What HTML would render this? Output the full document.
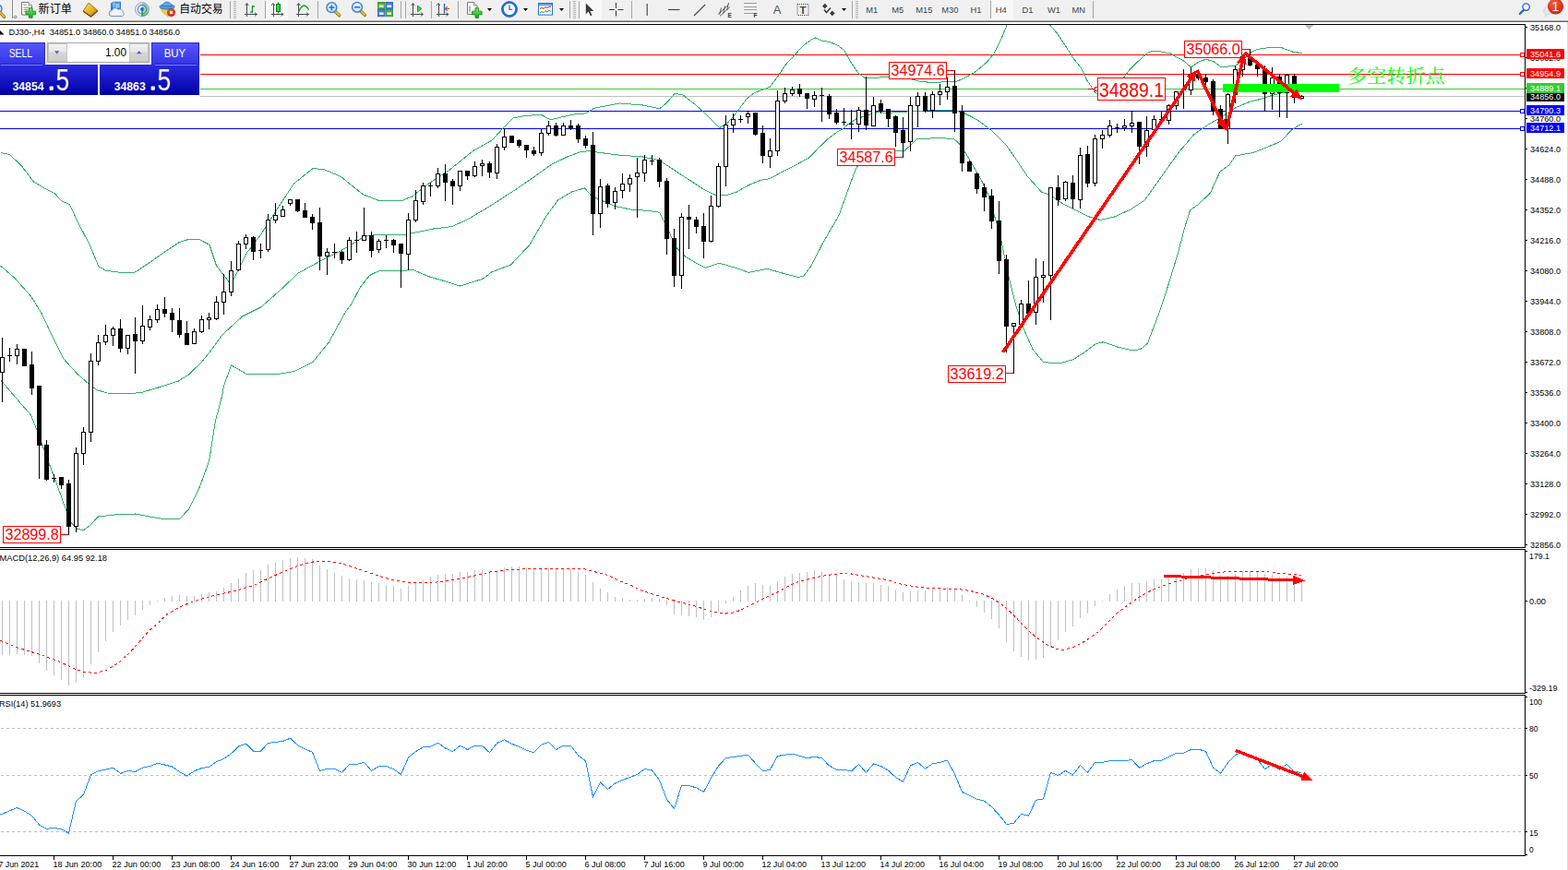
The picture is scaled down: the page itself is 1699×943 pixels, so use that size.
<!DOCTYPE html>
<html><head><meta charset="utf-8"><title>DJ30 H4</title>
<style>
html,body{margin:0;padding:0;background:#fff;overflow:hidden}
body{width:1699px;height:943px}
svg{display:block;position:absolute;left:0;top:0}
text{font-family:"Liberation Sans",sans-serif;white-space:pre}
</style></head><body>
<svg width="1699" height="943" viewBox="0 0 1699 943">
<rect x="0" y="0" width="1699" height="943" fill="#fff"/>
<rect x="0" y="0" width="1699" height="22" fill="#f0f0f0"/>
<rect x="0" y="21" width="1699" height="1" fill="#f7f7f7" shape-rendering="crispEdges"/>
<rect x="0" y="22" width="1699" height="1" fill="#a8a8a8" shape-rendering="crispEdges"/>
<rect x="0" y="23" width="1699" height="1" fill="#696969" shape-rendering="crispEdges"/>
<defs>
<linearGradient id="gold" x1="0" y1="0" x2="1" y2="1"><stop offset="0" stop-color="#fbe27a"/><stop offset="0.5" stop-color="#e9b32a"/><stop offset="1" stop-color="#b97a12"/></linearGradient>
<linearGradient id="grn" x1="0" y1="0" x2="0" y2="1"><stop offset="0" stop-color="#7be87b"/><stop offset="1" stop-color="#12a812"/></linearGradient>
<linearGradient id="blu" x1="0" y1="0" x2="0" y2="1"><stop offset="0" stop-color="#6db6f5"/><stop offset="1" stop-color="#1c6fd6"/></linearGradient>
<radialGradient id="glass" cx="0.4" cy="0.35" r="0.7"><stop offset="0" stop-color="#ffffff"/><stop offset="1" stop-color="#bcd9f5"/></radialGradient>
<radialGradient id="redb" cx="0.4" cy="0.3" r="0.8"><stop offset="0" stop-color="#f0603a"/><stop offset="1" stop-color="#d01a0a"/></radialGradient>
</defs>
<circle cx="-3" cy="9.5" r="5" fill="url(#glass)" stroke="#3b86d8" stroke-width="1.4"/>
<line x1="0.3" y1="13.6" x2="4.6" y2="18.4" stroke="#8e6a14" stroke-width="3.2" stroke-linecap="round"/>
<line x1="0.3" y1="13.6" x2="4.5" y2="18.2" stroke="#e8c038" stroke-width="1.8" stroke-linecap="round"/>
<rect x="13" y="0" width="1" height="20" fill="#8c8c8c" shape-rendering="crispEdges"/>
<path d="M16.5 17l1.5 1.5l-1.5 1.5l-1.5-1.5z" fill="#fff" stroke="#222" stroke-width="0.7"/>
<path d="M23.5 2.5h7.5l3.5 3.5v10.0h-11z" fill="#fbfbfb" stroke="#7a7a7a" stroke-width="1"/>
<path d="M31.0 2.5v3.5h3.5" fill="#e4e4e4" stroke="#7a7a7a" stroke-width="0.8"/>
<path d="M25.5 5.2h3M25.5 8.2h6M25.5 10.4h5M25.5 12.6h4" stroke="#8a8a8a" stroke-width="1"/>
<path d="M31.499999999999996 8.7h3.6v3.5h3.5v3.6h-3.5v3.5h-3.6v-3.5h-3.5v-3.6h3.5z" fill="url(#grn)" stroke="#168a16" stroke-width="0.9"/>
<text x="41.6" y="13.9" font-size="12.1" fill="#000" textLength="36.3" lengthAdjust="spacingAndGlyphs" style="font-family:'Liberation Sans','Noto Sans CJK SC',sans-serif">新订单</text>
<path d="M96 3.2L106 11.5L98.5 18L90 12z" fill="url(#gold)" stroke="#9a6a12" stroke-width="0.9"/>
<path d="M90 12l8.5 6l7.5-6.5" fill="none" stroke="#7a4e08" stroke-width="1.4"/>
<path d="M120.5 3.5l3-1.3h7v8.5h-10z" fill="url(#blu)" stroke="#1a62c4" stroke-width="0.8"/>
<path d="M123.5 2.5v8" stroke="#bfe0ff" stroke-width="0.8"/>
<path d="M125 5.5h4.5M125 7.5h4.5" stroke="#e6f3ff" stroke-width="0.9"/>
<path d="M121 17.5a3 3 0 0 1 0.3-6a3.6 3.6 0 0 1 6.6-1.2a3.4 3.4 0 0 1 5.2 3.2a2.2 2.2 0 0 1-0.6 4z" fill="#eef4fb" stroke="#6d8fc6" stroke-width="1"/>
<path d="M154 2.6a7.6 7.6 0 0 1 0 15.2z" fill="#8ccf8c" opacity="0.85"/>
<circle cx="154" cy="10.2" r="7.4" fill="none" stroke="#7fa3df" stroke-width="1"/>
<circle cx="154" cy="10.2" r="4.8" fill="none" stroke="#4f82d6" stroke-width="1.1"/>
<path d="M154 10v7.6" stroke="#1fa83a" stroke-width="1.6"/>
<path d="M154 17.6q5-0.6 7-5" stroke="#3aa84a" stroke-width="1" fill="none"/>
<circle cx="154" cy="10" r="1.9" fill="#2e62c8"/>
<path d="M174 8.5h14.5l-1.5 4l-5 5.3l-6-4.8z" fill="#f6d548" stroke="#c9a21c" stroke-width="0.8"/>
<ellipse cx="181" cy="7.3" rx="8.2" ry="2.9" fill="#4c97d8" stroke="#2c6fb8" stroke-width="0.7"/>
<path d="M176.3 6.5a4.7 4.4 0 0 1 9.4 0z" fill="#5ea9e6" stroke="#2c6fb8" stroke-width="0.7"/>
<circle cx="185.6" cy="13.6" r="4.2" fill="url(#redb)" stroke="#b01408" stroke-width="0.6"/>
<rect x="184.1" y="12.1" width="3" height="3" fill="#fff"/>
<text x="194.3" y="13.9" font-size="12.1" fill="#000" textLength="47.3" lengthAdjust="spacingAndGlyphs" style="font-family:'Liberation Sans','Noto Sans CJK SC',sans-serif">自动交易</text>
<rect x="249" y="1" width="1" height="19" fill="#a5a5a5" shape-rendering="crispEdges"/>
<rect x="253" y="1" width="3" height="1" fill="#b4b4b4" shape-rendering="crispEdges"/>
<rect x="253" y="3" width="3" height="1" fill="#b4b4b4" shape-rendering="crispEdges"/>
<rect x="253" y="5" width="3" height="1" fill="#b4b4b4" shape-rendering="crispEdges"/>
<rect x="253" y="7" width="3" height="1" fill="#b4b4b4" shape-rendering="crispEdges"/>
<rect x="253" y="9" width="3" height="1" fill="#b4b4b4" shape-rendering="crispEdges"/>
<rect x="253" y="11" width="3" height="1" fill="#b4b4b4" shape-rendering="crispEdges"/>
<rect x="253" y="13" width="3" height="1" fill="#b4b4b4" shape-rendering="crispEdges"/>
<rect x="253" y="15" width="3" height="1" fill="#b4b4b4" shape-rendering="crispEdges"/>
<rect x="253" y="17" width="3" height="1" fill="#b4b4b4" shape-rendering="crispEdges"/>
<rect x="253" y="19" width="3" height="1" fill="#b4b4b4" shape-rendering="crispEdges"/>
<path d="M267.5 4v14M265 15.5h13" stroke="#4a4a4a" stroke-width="1" fill="none" shape-rendering="crispEdges"/>
<path d="M265.7 6l1.8-2.6l1.8 2.6M276 13.7l2.6 1.8l-2.6 1.8" stroke="#4a4a4a" stroke-width="0.9" fill="none"/>
<path d="M273.5 6v8M273.5 7h2.5M271 13h2.5" stroke="#1d9a2e" stroke-width="1.4" fill="none"/>
<rect x="287" y="1" width="1" height="19" fill="#a5a5a5" shape-rendering="crispEdges"/>
<rect x="288" y="0" width="24" height="21" fill="#f8f8f8"/>
<path d="M296.0 4v14M293.5 15.5h13" stroke="#4a4a4a" stroke-width="1" fill="none" shape-rendering="crispEdges"/>
<path d="M294.2 6l1.8-2.6l1.8 2.6M304.5 13.7l2.6 1.8l-2.6 1.8" stroke="#4a4a4a" stroke-width="0.9" fill="none"/>
<path d="M301.5 2.5v12" stroke="#157a22" stroke-width="1.2"/>
<rect x="299.5" y="4.5" width="4" height="8" fill="#2fd44a" stroke="#157a22" stroke-width="1"/>
<path d="M323.5 4v14M321 15.5h13" stroke="#4a4a4a" stroke-width="1" fill="none" shape-rendering="crispEdges"/>
<path d="M321.7 6l1.8-2.6l1.8 2.6M332 13.7l2.6 1.8l-2.6 1.8" stroke="#4a4a4a" stroke-width="0.9" fill="none"/>
<path d="M323.5 13q3-7 6-7q3 0.5 5 4.5" stroke="#1d9a2e" stroke-width="1.3" fill="none"/>
<rect x="344" y="1" width="1" height="19" fill="#a5a5a5" shape-rendering="crispEdges"/>
<line x1="363.0" y1="12.2" x2="367.7" y2="16.799999999999997" stroke="#8e6a14" stroke-width="3.4" stroke-linecap="round"/>
<line x1="363.2" y1="12.2" x2="367.59999999999997" y2="16.5" stroke="#e8c038" stroke-width="2" stroke-linecap="round"/>
<circle cx="359.4" cy="8.2" r="5.4" fill="url(#glass)" stroke="#3b86d8" stroke-width="1.5"/>
<path d="M356.4 8.2h6M359.4 5.199999999999999v6" stroke="#2f78cf" stroke-width="1.8"/>
<line x1="390.6" y1="11.8" x2="395.3" y2="16.4" stroke="#8e6a14" stroke-width="3.4" stroke-linecap="round"/>
<line x1="390.8" y1="11.8" x2="395.2" y2="16.1" stroke="#e8c038" stroke-width="2" stroke-linecap="round"/>
<circle cx="387" cy="7.8" r="5.4" fill="url(#glass)" stroke="#3b86d8" stroke-width="1.5"/>
<path d="M384 7.8h6" stroke="#2f78cf" stroke-width="1.8"/>
<rect x="409.5" y="2.5" width="7.4" height="7.2" fill="#4cae3c" stroke="#2f8a24" stroke-width="0.8"/>
<rect x="410.8" y="5.4" width="4.8" height="2.6" fill="#f4f8ff" opacity="0.9"/>
<rect x="418.0" y="2.5" width="7.4" height="7.2" fill="#3c7fe0" stroke="#2458c0" stroke-width="0.8"/>
<rect x="419.3" y="5.4" width="4.8" height="2.6" fill="#f4f8ff" opacity="0.9"/>
<rect x="409.5" y="10.5" width="7.4" height="7.2" fill="#3c7fe0" stroke="#2458c0" stroke-width="0.8"/>
<rect x="410.8" y="13.4" width="4.8" height="2.6" fill="#f4f8ff" opacity="0.9"/>
<rect x="418.0" y="10.5" width="7.4" height="7.2" fill="#4cae3c" stroke="#2f8a24" stroke-width="0.8"/>
<rect x="419.3" y="13.4" width="4.8" height="2.6" fill="#f4f8ff" opacity="0.9"/>
<rect x="434" y="1" width="1" height="19" fill="#a5a5a5" shape-rendering="crispEdges"/>
<rect x="439" y="1" width="1" height="19" fill="#a5a5a5" shape-rendering="crispEdges"/>
<path d="M447.5 4v14M445 15.5h13" stroke="#4a4a4a" stroke-width="1" fill="none" shape-rendering="crispEdges"/>
<path d="M445.7 6l1.8-2.6l1.8 2.6M456 13.7l2.6 1.8l-2.6 1.8" stroke="#4a4a4a" stroke-width="0.9" fill="none"/>
<path d="M452.5 6.2l4.4 3.3l-4.4 3.3z" fill="#3fd24f" stroke="#1a8a2a" stroke-width="0.9"/>
<rect x="467" y="1" width="1" height="19" fill="#a5a5a5" shape-rendering="crispEdges"/>
<path d="M475.0 4v14M472.5 15.5h13" stroke="#4a4a4a" stroke-width="1" fill="none" shape-rendering="crispEdges"/>
<path d="M473.2 6l1.8-2.6l1.8 2.6M483.5 13.7l2.6 1.8l-2.6 1.8" stroke="#4a4a4a" stroke-width="0.9" fill="none"/>
<path d="M481.5 4v10.5" stroke="#1c62c8" stroke-width="1.3"/>
<path d="M487 9.5h-4.4M484.8 7.3l-2.4 2.2l2.4 2.2" stroke="#d84a10" stroke-width="1.2" fill="none"/>
<rect x="496" y="1" width="1" height="19" fill="#a5a5a5" shape-rendering="crispEdges"/>
<path d="M506.5 2.5h7.0l3.5 3.5v9.5h-10.5z" fill="#fbfbfb" stroke="#7a7a7a" stroke-width="1"/>
<path d="M513.5 2.5v3.5h3.5" fill="#e4e4e4" stroke="#7a7a7a" stroke-width="0.8"/>
<path d="M509 6.5v7M508 8h2M508 11h2" stroke="#8a8a8a" stroke-width="0.9"/>
<path d="M515.0 8.7h3.6v3.5h3.5v3.6h-3.5v3.5h-3.6v-3.5h-3.5v-3.6h3.5z" fill="url(#grn)" stroke="#168a16" stroke-width="0.9"/>
<path d="M528 9h5l-2.5 3z" fill="#000"/>
<circle cx="552" cy="10" r="7.4" fill="#f7fbff" stroke="#1f6fd8" stroke-width="2.4"/>
<circle cx="552" cy="10" r="8.5" fill="none" stroke="#154fa8" stroke-width="0.6"/>
<path d="M552 5.4v4.8h3.2" stroke="#444" stroke-width="1.1" fill="none"/>
<path d="M567 9h5l-2.5 3z" fill="#000"/>
<rect x="583.5" y="3.5" width="15" height="12.6" fill="#fdfdfd" stroke="#2b6fd0" stroke-width="1"/>
<rect x="584" y="4" width="14" height="2.2" fill="#5f9ff0"/>
<path d="M585 9.5l2-1l2 0.8l2-1.6l2 0.8l2-1.4l2 0.4" stroke="#b0301c" stroke-width="1" fill="none"/>
<path d="M585 14l2-1.4l2 1l2-2l2 1.6l2-2l2 1.4" stroke="#1c9a2c" stroke-width="1" fill="none"/>
<path d="M606 9h5l-2.5 3z" fill="#000"/>
<rect x="617" y="1" width="1" height="19" fill="#a5a5a5" shape-rendering="crispEdges"/>
<rect x="621" y="1" width="3" height="1" fill="#b4b4b4" shape-rendering="crispEdges"/>
<rect x="621" y="3" width="3" height="1" fill="#b4b4b4" shape-rendering="crispEdges"/>
<rect x="621" y="5" width="3" height="1" fill="#b4b4b4" shape-rendering="crispEdges"/>
<rect x="621" y="7" width="3" height="1" fill="#b4b4b4" shape-rendering="crispEdges"/>
<rect x="621" y="9" width="3" height="1" fill="#b4b4b4" shape-rendering="crispEdges"/>
<rect x="621" y="11" width="3" height="1" fill="#b4b4b4" shape-rendering="crispEdges"/>
<rect x="621" y="13" width="3" height="1" fill="#b4b4b4" shape-rendering="crispEdges"/>
<rect x="621" y="15" width="3" height="1" fill="#b4b4b4" shape-rendering="crispEdges"/>
<rect x="621" y="17" width="3" height="1" fill="#b4b4b4" shape-rendering="crispEdges"/>
<rect x="621" y="19" width="3" height="1" fill="#b4b4b4" shape-rendering="crispEdges"/>
<rect x="627" y="1" width="1" height="19" fill="#a5a5a5" shape-rendering="crispEdges"/>
<rect x="628" y="0" width="24" height="21" fill="#f8f8f8"/>
<path d="M634.8 3.6v11.6l2.9-2.6l2.1 4.6l1.7-0.8l-2.1-4.4h4z" fill="#3c3c3c"/>
<path d="M667.5 3v6M667.5 11.5v6M660 10.5h6M669.5 10.5h6" stroke="#3c3c3c" stroke-width="1.1"/>
<rect x="684" y="1" width="1" height="19" fill="#a5a5a5" shape-rendering="crispEdges"/>
<path d="M701.2 4v13" stroke="#4a4a4a" stroke-width="1.2"/>
<path d="M724 10.5h12.5" stroke="#4a4a4a" stroke-width="1.2"/>
<path d="M752 17l12.2-12" stroke="#4a4a4a" stroke-width="1.2"/>
<path d="M778 15.5l11-10M780 17.5l11-10M781.5 8.5l-1.8 7M785.5 6.5l-1.8 8M789.5 3l-1.8 8" stroke="#4a4a4a" stroke-width="0.9" fill="none"/>
<text x="788.5" y="19" font-size="6.5" fill="#333" font-weight="bold">E</text>
<path d="M806.5 3.5h13.5" stroke="#4a4a4a" stroke-width="1" stroke-dasharray="1 1"/>
<path d="M806.5 7.5h13.5" stroke="#4a4a4a" stroke-width="1" stroke-dasharray="1 1"/>
<path d="M806.5 10.5h13.5" stroke="#4a4a4a" stroke-width="1" stroke-dasharray="1 1"/>
<path d="M806.5 14.5h13.5" stroke="#4a4a4a" stroke-width="1" stroke-dasharray="1 1"/>
<text x="816.5" y="19" font-size="6.5" fill="#333" font-weight="bold">F</text>
<text x="842" y="15.2" font-size="13" fill="#555" text-anchor="middle">A</text>
<rect x="864" y="4.5" width="12" height="12" fill="none" stroke="#444" stroke-width="1" stroke-dasharray="1 1"/>
<text x="870" y="15" font-size="11.5" fill="#444" text-anchor="middle" font-weight="bold">T</text>
<path d="M891 6.6l2.8-2.8l2.8 2.8l-2.8 2.8z" fill="#3c3c3c"/>
<path d="M899 14.4l2.8-2.8l2.8 2.8l-2.8 2.8z" fill="#3c3c3c"/>
<path d="M893 10.5l2.5 3l4.5-5" stroke="#3c3c3c" stroke-width="1.5" fill="none"/>
<path d="M912 9h5l-2.5 3z" fill="#000"/>
<rect x="923" y="1" width="1" height="19" fill="#a5a5a5" shape-rendering="crispEdges"/>
<rect x="927" y="1" width="3" height="1" fill="#b4b4b4" shape-rendering="crispEdges"/>
<rect x="927" y="3" width="3" height="1" fill="#b4b4b4" shape-rendering="crispEdges"/>
<rect x="927" y="5" width="3" height="1" fill="#b4b4b4" shape-rendering="crispEdges"/>
<rect x="927" y="7" width="3" height="1" fill="#b4b4b4" shape-rendering="crispEdges"/>
<rect x="927" y="9" width="3" height="1" fill="#b4b4b4" shape-rendering="crispEdges"/>
<rect x="927" y="11" width="3" height="1" fill="#b4b4b4" shape-rendering="crispEdges"/>
<rect x="927" y="13" width="3" height="1" fill="#b4b4b4" shape-rendering="crispEdges"/>
<rect x="927" y="15" width="3" height="1" fill="#b4b4b4" shape-rendering="crispEdges"/>
<rect x="927" y="17" width="3" height="1" fill="#b4b4b4" shape-rendering="crispEdges"/>
<rect x="927" y="19" width="3" height="1" fill="#b4b4b4" shape-rendering="crispEdges"/>
<text x="944.8" y="14.1" font-size="9.4" fill="#444" text-anchor="middle">M1</text>
<text x="972.8" y="14.1" font-size="9.4" fill="#444" text-anchor="middle">M5</text>
<text x="1001.4" y="14.1" font-size="9.4" fill="#444" text-anchor="middle">M15</text>
<text x="1029.3" y="14.1" font-size="9.4" fill="#444" text-anchor="middle">M30</text>
<text x="1057.5" y="14.1" font-size="9.4" fill="#444" text-anchor="middle">H1</text>
<rect x="1073" y="1" width="1" height="19" fill="#a5a5a5" shape-rendering="crispEdges"/>
<rect x="1074" y="0" width="24" height="21" fill="#f8f8f8"/>
<text x="1084.7" y="14.1" font-size="9.4" fill="#444" text-anchor="middle">H4</text>
<text x="1113.4" y="14.1" font-size="9.4" fill="#444" text-anchor="middle">D1</text>
<text x="1142" y="14.1" font-size="9.4" fill="#444" text-anchor="middle">W1</text>
<text x="1168.8" y="14.1" font-size="9.4" fill="#444" text-anchor="middle">MN</text>
<rect x="1184" y="1" width="1" height="19" fill="#a5a5a5" shape-rendering="crispEdges"/>
<line x1="1646.8" y1="15" x2="1650.8" y2="11" stroke="#2a5fd0" stroke-width="2.2" stroke-linecap="round"/>
<circle cx="1653.6" cy="7.6" r="3.7" fill="#f4f8ff" stroke="#2a5fd0" stroke-width="1.3"/>
<path d="M1673 11a5.5 4 0 1 1 6 4l-3 0.5l-1 2.5l-0.6-2.8a5.5 4 0 0 1-1.4-4.2z" fill="#e4e8ee" stroke="#c0c6d0" stroke-width="0.7"/>
<circle cx="1685.5" cy="7" r="8.6" fill="url(#redb)"/>
<text x="1685.3" y="12.2" font-size="14" fill="#fff" text-anchor="middle">1</text>
<g shape-rendering="crispEdges">
<rect x="0" y="26" width="1653" height="1" fill="#000"/>
<rect x="1652" y="26" width="1" height="902" fill="#000"/>
<rect x="217" y="59" width="1435" height="1" fill="#ff0000"/>
<rect x="217" y="80" width="1435" height="1" fill="#ff0000"/>
<rect x="217" y="96" width="1435" height="1" fill="#32cd32"/>
<rect x="217" y="104" width="1435" height="1" fill="#c0c0c0"/>
<rect x="0" y="120" width="1652" height="1" fill="#0000ff"/>
<rect x="0" y="139" width="1652" height="1" fill="#0000ff"/>
</g>
<g shape-rendering="crispEdges">
<clipPath id="cpm"><rect x="0" y="27" width="1652" height="566"/></clipPath>
<g clip-path="url(#cpm)">
<polyline points="0.5,165.6 10.5,167.4 23.5,180 36.1,196.7 46.3,203 59,209.4 66.5,217.8 75.5,221.6 84.5,241 97.2,265.4 106.9,288.8 115,293.4 131.5,295.4 146.5,295 160.5,285.8 178.5,273 193.9,262.8 204.1,259.5 216.5,259.8 227,265.4 234.5,288 248.5,306 253.5,302 267.5,274 283,253.8 298.3,229.6 318.5,199 339,182.5 351.5,183.8 369.5,191.5 380.5,200.5 393.2,210.7 411,217.6 435.2,217.6 446.5,213 464.5,199 487.4,184 512.5,163.6 533.2,152 543.5,140.7 556.1,128 568.5,125.4 586.5,124.4 596.5,129.8 609.5,126.7 624.5,123.4 635,122.9 643.5,117.3 671.5,112 696.5,114 714.5,117.8 722.3,111.5 731.2,101.3 740.1,103 752.5,112.7 765.5,124.2 779.5,138.7 788.5,133 798.5,121.6 808.5,107.6 817.5,100.5 830.5,95.7 834.5,94 842.9,82.7 851.1,70.4 861.5,59 871.7,48.3 879.9,42.5 883.5,41 891.3,44.6 898.5,45.2 908.8,49.8 915,54.9 921.1,66.2 929.5,78.6 937.5,84.8 945.9,84.2 964.5,83.7 987.1,85.8 995.3,87.9 1011.8,89.9 1026.2,88.3 1036.5,88.3 1044.8,84.8 1057.1,77.6 1069.5,67.3 1077.7,57 1083.9,44.6 1091.1,27 1096.5,12 1105.5,2 1114.5,0 1124.5,4 1131.5,14 1137.5,27 1145.7,36.4 1153.9,48.7 1162.2,62.1 1170.5,72.4 1173.7,78.2 1177.7,86.9 1182.5,94 1186.5,100.4 1189.5,101.6 1197.5,104.5 1208.5,96 1217.8,83.7 1224.5,75 1230.9,68.6 1240.5,59.9 1244.5,56.7 1250,55.1 1254.8,55.1 1260.3,56.5 1268.3,57.9 1273.9,61.5 1281.8,65.4 1290.5,72.8 1295.3,69.4 1300.5,66.2 1306.9,64.3 1314.9,66.5 1322.8,72.5 1338.5,71.6 1356,56.6 1362.5,53.3 1377.2,51.3 1387.5,51.3 1401.1,56.2 1410.5,57.6" fill="none" stroke="#33b06e" stroke-width="1"/>
<polyline points="0.5,288 15.5,301 33.5,321 45,339.5 55.5,362 69.5,389.7 83.3,404.8 97,417 105.3,422.8 116.4,426 138.5,427 155,425 171.5,420 193.5,413 204.5,406 218.5,392.4 229.5,378.6 240.5,363.4 262.5,343 283,332.7 303.3,314.9 323.5,295.8 347.1,283 369.5,271.6 380.5,265.4 395.5,255.7 416.1,254 435.2,255 446.5,252.7 469.5,248 489.9,245.5 507.5,237.4 533.2,222 558.5,205.6 579,191.6 596.5,178.9 614.5,170 629.5,164.4 640.5,163.6 645.9,164.9 671.5,168.2 696.5,170 714.5,173.8 729.9,184 747.5,195.4 763,205.6 775.5,211.5 788.5,211.2 798.5,208 811.3,200.5 824,195.4 834.2,193.6 849.5,185.2 864.5,177.6 876,171.4 886.5,160.8 895.9,151.5 906.5,143.5 913.1,139.6 919.5,134.3 927.5,129 939.5,125 950.5,121.7 962.5,122.3 983,121 1003.3,119.8 1031.3,119 1044.1,122.3 1059.3,130 1074.5,141.4 1089.9,156.7 1100.5,172 1113.2,191 1128.5,208 1138.5,211.8 1151.5,220.7 1164.1,227 1179.5,234.7 1192.1,238.5 1207.5,235 1225.2,227 1240.5,216.8 1253.2,199 1265.9,181 1278.5,163.4 1293.9,145.6 1309.2,135 1321.9,127.8 1339.5,116.3 1355,110 1362.5,108.3 1379.8,103 1393.1,99.7 1410.5,98" fill="none" stroke="#33b06e" stroke-width="1"/>
<polyline points="0.5,411.7 17,431 33.5,450 41.5,469.7 50.2,494.5 59.5,519 69.5,547 76.5,566 83.3,573 90.2,575 97,570 106.5,560 124.5,558 146.5,557 166,560.7 179.5,563 195,562 204.5,552 215.5,530 226.5,500 233.5,456 240.5,429.7 242.3,419 250.5,395.8 267.5,405.7 298.3,406 318.5,402.6 339,392.5 356.5,370.8 374.5,337.8 380.5,330 390.5,311 400.5,298.5 411,293.4 435.2,293.4 447.9,292.6 464.5,299.7 482.3,304.8 498.5,310 523,302.3 533.2,294.6 553.5,287 573.9,265.4 591.5,234.9 604.5,217 619.5,208 633.5,203.8 640.5,212 651,217 666.3,223.4 684.1,227.2 704.5,228.5 714.5,230.3 722.3,245 732.5,268 742.5,278 755.4,285.8 764.3,290.3 779.5,285.2 798.5,290.8 811.3,295.4 831.5,291.3 844.5,295.2 864.5,300.5 871,299 878.5,289 891.5,263.6 909.2,233 921.9,197.4 928.3,180.9 940.5,172 955.5,167 970.3,163.8 980.5,163 993.2,151 1013.5,149.6 1033.5,150.3 1041.5,158 1051.5,174.5 1064.5,197.4 1070.5,210.5 1083.5,253.8 1093.5,302 1101.2,332.7 1108.8,355.6 1119,378.5 1130.5,392.5 1147,394 1162.3,390 1175,382 1187.5,372.6 1195.5,370.8 1210.5,376 1227.2,380 1236.1,378.5 1243.5,372 1256.5,337.8 1266.5,307 1276.5,274 1283.5,247.4 1289.5,228 1299.5,220.7 1311.5,209 1321.9,186.3 1332.1,178.7 1338.5,169 1355,166 1360,164.7 1373.2,159.4 1387.8,153.4 1399.5,140.8 1410.5,134" fill="none" stroke="#33b06e" stroke-width="1"/>
</g></g>
<rect x="3.5" y="570.5" width="62" height="18" fill="#fff" stroke="#ff0000" stroke-width="1" shape-rendering="crispEdges"/>
<text x="5.6" y="585.0" font-size="16.5" fill="#ff0000" textLength="58" lengthAdjust="spacingAndGlyphs">32899.8</text>
<rect x="66" y="579" width="8" height="1" fill="#ff0000" shape-rendering="crispEdges"/>
<rect x="907.5" y="161.5" width="62" height="18" fill="#fff" stroke="#ff0000" stroke-width="1" shape-rendering="crispEdges"/>
<text x="909.6" y="176.0" font-size="16.5" fill="#ff0000" textLength="58" lengthAdjust="spacingAndGlyphs">34587.6</text>
<rect x="970" y="170" width="8" height="1" fill="#ff0000" shape-rendering="crispEdges"/>
<rect x="963.5" y="67.5" width="62" height="18" fill="#fff" stroke="#ff0000" stroke-width="1" shape-rendering="crispEdges"/>
<text x="965.6" y="82.0" font-size="16.5" fill="#ff0000" textLength="58" lengthAdjust="spacingAndGlyphs">34974.6</text>
<rect x="1026" y="76" width="8" height="1" fill="#ff0000" shape-rendering="crispEdges"/>
<rect x="1027.5" y="396.5" width="62" height="18" fill="#fff" stroke="#ff0000" stroke-width="1" shape-rendering="crispEdges"/>
<text x="1029.6" y="411.0" font-size="16.5" fill="#ff0000" textLength="58" lengthAdjust="spacingAndGlyphs">33619.2</text>
<rect x="1090" y="404" width="8" height="1" fill="#ff0000" shape-rendering="crispEdges"/>
<rect x="1283.5" y="44.5" width="62" height="18" fill="#fff" stroke="#ff0000" stroke-width="1" shape-rendering="crispEdges"/>
<text x="1285.6" y="59.0" font-size="16.5" fill="#ff0000" textLength="58" lengthAdjust="spacingAndGlyphs">35066.0</text>
<rect x="1346" y="53" width="8" height="1" fill="#ff0000" shape-rendering="crispEdges"/>
<g shape-rendering="crispEdges">
<rect x="1179" y="96" width="8" height="1" fill="#ff0000"/>
<rect x="1186.5" y="94.5" width="3" height="4" fill="#fff" stroke="#ff0000" stroke-width="1"/>
<rect x="1189.5" y="84.5" width="73" height="24" fill="#fff" stroke="#ff0000" stroke-width="1"/>
</g>
<text x="1191" y="104.6" font-size="21.5" fill="#ff0000" textLength="70" lengthAdjust="spacingAndGlyphs">34889.1</text>
<g shape-rendering="crispEdges">
<path d="M2 366h1v70h-1zM10 377h1v15h-1zM18 373h1v22h-1zM26 378h1v19h-1zM34 381h1v47h-1zM42 418h1v101h-1zM50 477h1v44h-1zM58 514h1v9h-1zM66 517h1v13h-1zM74 520h1v60h-1zM82 485h1v92h-1zM90 463h1v41h-1zM98 383h1v96h-1zM106 363h1v33h-1zM114 352h1v22h-1zM122 354h1v21h-1zM130 346h1v36h-1zM138 363h1v21h-1zM146 344h1v61h-1zM154 331h1v42h-1zM162 342h1v16h-1zM170 330h1v20h-1zM178 322h1v22h-1zM186 334h1v26h-1zM194 334h1v32h-1zM202 348h1v26h-1zM210 356h1v17h-1zM218 342h1v19h-1zM226 339h1v18h-1zM234 321h1v26h-1zM242 297h1v44h-1zM250 283h1v38h-1zM258 261h1v33h-1zM266 254h1v16h-1zM274 256h1v26h-1zM282 264h1v16h-1zM290 232h1v41h-1zM298 220h1v22h-1zM306 223h1v12h-1zM314 216h1v7h-1zM322 216h1v14h-1zM330 220h1v16h-1zM338 232h1v17h-1zM346 225h1v68h-1zM354 269h1v29h-1zM362 264h1v16h-1zM370 272h1v14h-1zM378 257h1v26h-1zM386 251h1v23h-1zM394 225h1v36h-1zM402 251h1v28h-1zM410 259h1v15h-1zM418 255h1v14h-1zM426 259h1v15h-1zM434 264h1v48h-1zM442 231h1v62h-1zM450 206h1v35h-1zM458 198h1v24h-1zM466 198h1v15h-1zM474 182h1v22h-1zM482 178h1v40h-1zM490 194h1v28h-1zM498 185h1v22h-1zM506 185h1v10h-1zM514 175h1v17h-1zM522 173h1v18h-1zM530 175h1v18h-1zM538 156h1v38h-1zM546 139h1v24h-1zM554 147h1v8h-1zM562 151h1v9h-1zM570 157h1v14h-1zM578 159h1v10h-1zM586 140h1v29h-1zM594 131h1v16h-1zM602 133h1v15h-1zM610 133h1v14h-1zM618 130h1v11h-1zM626 134h1v21h-1zM634 147h1v14h-1zM642 143h1v112h-1zM650 194h1v53h-1zM658 199h1v26h-1zM666 203h1v24h-1zM674 188h1v27h-1zM682 189h1v19h-1zM690 171h1v65h-1zM698 168h1v29h-1zM706 168h1v11h-1zM714 171h1v32h-1zM722 193h1v83h-1zM730 248h1v63h-1zM738 231h1v82h-1zM746 222h1v48h-1zM754 235h1v18h-1zM762 231h1v49h-1zM770 212h1v51h-1zM778 177h1v48h-1zM786 125h1v77h-1zM794 123h1v21h-1zM802 125h1v8h-1zM810 120h1v14h-1zM818 122h1v25h-1zM826 136h1v41h-1zM834 150h1v32h-1zM842 98h1v71h-1zM850 95h1v17h-1zM858 94h1v10h-1zM866 91h1v14h-1zM874 101h1v17h-1zM882 99h1v17h-1zM890 95h1v37h-1zM898 102h1v27h-1zM906 118h1v17h-1zM914 117h1v19h-1zM922 119h1v32h-1zM930 116h1v27h-1zM938 83h1v58h-1zM946 105h1v32h-1zM954 108h1v15h-1zM962 118h1v20h-1zM970 125h1v34h-1zM978 127h1v44h-1zM986 105h1v59h-1zM994 100h1v38h-1zM1002 100h1v22h-1zM1010 99h1v29h-1zM1018 91h1v23h-1zM1026 84h1v24h-1zM1034 76h1v67h-1zM1042 114h1v72h-1zM1050 174h1v12h-1zM1058 187h1v23h-1zM1066 199h1v30h-1zM1074 205h1v43h-1zM1082 218h1v79h-1zM1090 276h1v106h-1zM1098 350h1v55h-1zM1106 325h1v27h-1zM1114 304h1v36h-1zM1122 280h1v72h-1zM1130 283h1v45h-1zM1138 203h1v144h-1zM1146 190h1v33h-1zM1154 196h1v22h-1zM1162 190h1v36h-1zM1170 160h1v66h-1zM1178 158h1v45h-1zM1186 146h1v56h-1zM1194 141h1v20h-1zM1202 130h1v19h-1zM1210 134h1v10h-1zM1218 129h1v13h-1zM1226 120h1v24h-1zM1234 132h1v46h-1zM1242 126h1v44h-1zM1250 125h1v17h-1zM1258 121h1v12h-1zM1266 113h1v22h-1zM1274 99h1v20h-1zM1282 75h1v43h-1zM1290 73h1v30h-1zM1298 79h1v8h-1zM1306 80h1v12h-1zM1314 86h1v39h-1zM1322 114h1v26h-1zM1330 101h1v55h-1zM1338 71h1v41h-1zM1346 59h1v24h-1zM1354 53h1v19h-1zM1362 68h1v15h-1zM1370 71h1v50h-1zM1378 73h1v46h-1zM1386 80h1v47h-1zM1394 80h1v48h-1zM1402 80h1v32h-1zM1410 103h1v3h-1z" fill="#000"/>
<path d="M0 387h5v17h-5zM8 385h5v1h-5zM16 378h5v8h-5zM24 378h5v19h-5zM32 395h5v26h-5zM40 418h5v65h-5zM48 482h5v38h-5zM56 518h5v1h-5zM64 517h5v9h-5zM72 524h5v47h-5zM80 491h5v80h-5zM88 468h5v24h-5zM96 391h5v78h-5zM104 371h5v21h-5zM112 363h5v8h-5zM120 356h5v8h-5zM128 356h5v22h-5zM136 363h5v15h-5zM144 362h5v8h-5zM152 353h5v17h-5zM160 346h5v9h-5zM168 335h5v12h-5zM176 335h5v5h-5zM184 339h5v8h-5zM192 347h5v16h-5zM200 361h5v13h-5zM208 359h5v14h-5zM216 346h5v14h-5zM224 344h5v3h-5zM232 327h5v19h-5zM240 316h5v12h-5zM248 293h5v24h-5zM256 264h5v29h-5zM264 257h5v8h-5zM272 257h5v16h-5zM280 271h5v1h-5zM288 238h5v33h-5zM296 233h5v6h-5zM304 227h5v8h-5zM312 216h5v5h-5zM320 216h5v13h-5zM328 228h5v8h-5zM336 235h5v7h-5zM344 241h5v37h-5zM352 273h5v5h-5zM360 273h5v1h-5zM368 273h5v9h-5zM376 260h5v22h-5zM384 260h5v1h-5zM392 255h5v6h-5zM400 255h5v17h-5zM408 261h5v10h-5zM416 260h5v1h-5zM424 260h5v6h-5zM432 264h5v11h-5zM440 238h5v38h-5zM448 217h5v22h-5zM456 201h5v18h-5zM464 201h5v1h-5zM472 188h5v14h-5zM480 188h5v10h-5zM488 196h5v6h-5zM496 185h5v17h-5zM504 185h5v6h-5zM512 180h5v11h-5zM520 177h5v3h-5zM528 177h5v10h-5zM536 159h5v29h-5zM544 148h5v12h-5zM552 147h5v8h-5zM560 152h5v6h-5zM568 157h5v6h-5zM576 163h5v4h-5zM584 144h5v22h-5zM592 136h5v9h-5zM600 136h5v11h-5zM608 136h5v11h-5zM616 136h5v3h-5zM624 136h5v15h-5zM632 150h5v8h-5zM640 157h5v75h-5zM648 202h5v30h-5zM656 201h5v20h-5zM664 207h5v13h-5zM672 199h5v8h-5zM680 193h5v7h-5zM688 187h5v5h-5zM696 173h5v15h-5zM704 174h5v1h-5zM712 173h5v24h-5zM720 196h5v63h-5zM728 258h5v41h-5zM736 235h5v64h-5zM744 235h5v3h-5zM752 238h5v8h-5zM760 245h5v17h-5zM768 223h5v39h-5zM776 180h5v44h-5zM784 135h5v46h-5zM792 129h5v7h-5zM800 129h5v1h-5zM808 123h5v4h-5zM816 122h5v24h-5zM824 144h5v25h-5zM832 163h5v7h-5zM840 109h5v55h-5zM848 101h5v9h-5zM856 97h5v5h-5zM864 96h5v6h-5zM872 101h5v6h-5zM880 103h5v5h-5zM888 103h5v1h-5zM896 104h5v20h-5zM904 122h5v11h-5zM912 132h5v1h-5zM920 134h5v1h-5zM928 119h5v16h-5zM936 119h5v17h-5zM944 114h5v23h-5zM952 112h5v8h-5zM960 118h5v11h-5zM968 126h5v18h-5zM976 141h5v14h-5zM984 114h5v40h-5zM992 104h5v11h-5zM1000 104h5v16h-5zM1008 102h5v18h-5zM1016 99h5v4h-5zM1024 94h5v6h-5zM1032 93h5v30h-5zM1040 121h5v56h-5zM1048 175h5v11h-5zM1056 188h5v17h-5zM1064 203h5v11h-5zM1072 212h5v28h-5zM1080 239h5v44h-5zM1088 281h5v73h-5zM1096 350h5v4h-5zM1104 329h5v23h-5zM1112 329h5v11h-5zM1120 300h5v39h-5zM1128 298h5v3h-5zM1136 203h5v96h-5zM1144 203h5v14h-5zM1152 197h5v19h-5zM1160 198h5v18h-5zM1168 168h5v49h-5zM1176 167h5v32h-5zM1184 150h5v49h-5zM1192 146h5v5h-5zM1200 136h5v11h-5zM1208 138h5v1h-5zM1216 136h5v3h-5zM1224 133h5v4h-5zM1232 132h5v27h-5zM1240 141h5v18h-5zM1248 129h5v12h-5zM1256 129h5v1h-5zM1264 114h5v17h-5zM1272 99h5v16h-5zM1280 97h5v1h-5zM1288 80h5v18h-5zM1296 80h5v5h-5zM1304 84h5v5h-5zM1312 88h5v33h-5zM1320 118h5v22h-5zM1328 102h5v38h-5zM1336 75h5v28h-5zM1344 61h5v15h-5zM1352 61h5v10h-5zM1360 70h5v5h-5zM1368 74h5v28h-5zM1376 84h5v18h-5zM1384 83h5v18h-5zM1392 81h5v20h-5zM1400 82h5v24h-5zM1408 104h5v3h-5z" fill="#000"/>
<path d="M1 388h3v15h-3zM17 379h3v6h-3zM81 492h3v78h-3zM89 469h3v22h-3zM97 392h3v76h-3zM105 372h3v19h-3zM113 364h3v6h-3zM121 357h3v6h-3zM137 364h3v13h-3zM153 354h3v15h-3zM161 347h3v7h-3zM169 336h3v10h-3zM209 360h3v12h-3zM217 347h3v12h-3zM225 345h3v1h-3zM233 328h3v17h-3zM241 317h3v10h-3zM249 294h3v22h-3zM257 265h3v27h-3zM265 258h3v6h-3zM289 239h3v31h-3zM297 234h3v4h-3zM305 228h3v6h-3zM313 217h3v3h-3zM353 274h3v3h-3zM377 261h3v20h-3zM393 256h3v4h-3zM409 262h3v8h-3zM441 239h3v36h-3zM449 218h3v20h-3zM457 202h3v16h-3zM473 189h3v12h-3zM497 186h3v15h-3zM513 181h3v9h-3zM521 178h3v1h-3zM537 160h3v27h-3zM545 149h3v10h-3zM585 145h3v20h-3zM593 137h3v7h-3zM609 137h3v9h-3zM649 203h3v28h-3zM665 208h3v11h-3zM673 200h3v6h-3zM681 194h3v5h-3zM689 188h3v3h-3zM697 174h3v13h-3zM737 236h3v62h-3zM769 224h3v37h-3zM777 181h3v42h-3zM785 136h3v44h-3zM793 130h3v5h-3zM809 124h3v2h-3zM833 164h3v5h-3zM841 110h3v53h-3zM849 102h3v7h-3zM857 98h3v3h-3zM881 104h3v3h-3zM929 120h3v14h-3zM945 115h3v21h-3zM985 115h3v38h-3zM993 105h3v9h-3zM1009 103h3v16h-3zM1017 100h3v2h-3zM1025 95h3v4h-3zM1097 351h3v2h-3zM1105 330h3v21h-3zM1121 301h3v37h-3zM1129 299h3v1h-3zM1137 204h3v94h-3zM1153 198h3v17h-3zM1169 169h3v47h-3zM1185 151h3v47h-3zM1193 147h3v3h-3zM1201 137h3v9h-3zM1217 137h3v1h-3zM1225 134h3v2h-3zM1241 142h3v16h-3zM1249 130h3v10h-3zM1265 115h3v15h-3zM1273 100h3v14h-3zM1289 81h3v16h-3zM1329 103h3v36h-3zM1337 76h3v26h-3zM1345 62h3v13h-3zM1377 85h3v16h-3zM1393 82h3v18h-3zM1409 105h3v1h-3z" fill="#fff"/>
</g>
<g shape-rendering="crispEdges">
<rect x="1653" y="29" width="2" height="1" fill="#000"/>
<rect x="1653" y="62" width="2" height="1" fill="#000"/>
<rect x="1653" y="95" width="2" height="1" fill="#000"/>
<rect x="1653" y="128" width="2" height="1" fill="#000"/>
<rect x="1653" y="161" width="2" height="1" fill="#000"/>
<rect x="1653" y="194" width="2" height="1" fill="#000"/>
<rect x="1653" y="227" width="2" height="1" fill="#000"/>
<rect x="1653" y="260" width="2" height="1" fill="#000"/>
<rect x="1653" y="293" width="2" height="1" fill="#000"/>
<rect x="1653" y="326" width="2" height="1" fill="#000"/>
<rect x="1653" y="359" width="2" height="1" fill="#000"/>
<rect x="1653" y="392" width="2" height="1" fill="#000"/>
<rect x="1653" y="425" width="2" height="1" fill="#000"/>
<rect x="1653" y="458" width="2" height="1" fill="#000"/>
<rect x="1653" y="491" width="2" height="1" fill="#000"/>
<rect x="1653" y="524" width="2" height="1" fill="#000"/>
<rect x="1653" y="557" width="2" height="1" fill="#000"/>
<rect x="1653" y="590" width="2" height="1" fill="#000"/>
</g>
<text x="1658" y="32.7" font-size="9.5" fill="#000" textLength="33" lengthAdjust="spacingAndGlyphs">35168.0</text>
<text x="1658" y="65.7" font-size="9.5" fill="#000" textLength="33" lengthAdjust="spacingAndGlyphs">35032.0</text>
<text x="1658" y="98.8" font-size="9.5" fill="#000" textLength="33" lengthAdjust="spacingAndGlyphs">34896.0</text>
<text x="1658" y="131.8" font-size="9.5" fill="#000" textLength="33" lengthAdjust="spacingAndGlyphs">34760.0</text>
<text x="1658" y="164.8" font-size="9.5" fill="#000" textLength="33" lengthAdjust="spacingAndGlyphs">34624.0</text>
<text x="1658" y="197.9" font-size="9.5" fill="#000" textLength="33" lengthAdjust="spacingAndGlyphs">34488.0</text>
<text x="1658" y="230.9" font-size="9.5" fill="#000" textLength="33" lengthAdjust="spacingAndGlyphs">34352.0</text>
<text x="1658" y="264.0" font-size="9.5" fill="#000" textLength="33" lengthAdjust="spacingAndGlyphs">34216.0</text>
<text x="1658" y="297.0" font-size="9.5" fill="#000" textLength="33" lengthAdjust="spacingAndGlyphs">34080.0</text>
<text x="1658" y="330.1" font-size="9.5" fill="#000" textLength="33" lengthAdjust="spacingAndGlyphs">33944.0</text>
<text x="1658" y="363.1" font-size="9.5" fill="#000" textLength="33" lengthAdjust="spacingAndGlyphs">33808.0</text>
<text x="1658" y="396.2" font-size="9.5" fill="#000" textLength="33" lengthAdjust="spacingAndGlyphs">33672.0</text>
<text x="1658" y="429.2" font-size="9.5" fill="#000" textLength="33" lengthAdjust="spacingAndGlyphs">33536.0</text>
<text x="1658" y="462.3" font-size="9.5" fill="#000" textLength="33" lengthAdjust="spacingAndGlyphs">33400.0</text>
<text x="1658" y="495.3" font-size="9.5" fill="#000" textLength="33" lengthAdjust="spacingAndGlyphs">33264.0</text>
<text x="1658" y="528.3" font-size="9.5" fill="#000" textLength="33" lengthAdjust="spacingAndGlyphs">33128.0</text>
<text x="1658" y="561.4" font-size="9.5" fill="#000" textLength="33" lengthAdjust="spacingAndGlyphs">32992.0</text>
<text x="1658" y="594.4" font-size="9.5" fill="#000" textLength="33" lengthAdjust="spacingAndGlyphs">32856.0</text>
<rect x="1654" y="53" width="41" height="11" fill="#ff0000" shape-rendering="crispEdges"/>
<text x="1658" y="61.8" font-size="9.5" fill="#fff" textLength="33" lengthAdjust="spacingAndGlyphs">35041.6</text>
<rect x="1647.5" y="57.5" width="4" height="4" fill="#fff" stroke="#ff0000" stroke-width="1" shape-rendering="crispEdges"/>
<rect x="1654" y="74" width="41" height="11" fill="#ff0000" shape-rendering="crispEdges"/>
<text x="1658" y="82.8" font-size="9.5" fill="#fff" textLength="33" lengthAdjust="spacingAndGlyphs">34954.9</text>
<rect x="1647.5" y="78.5" width="4" height="4" fill="#fff" stroke="#ff0000" stroke-width="1" shape-rendering="crispEdges"/>
<rect x="1654" y="90" width="41" height="11" fill="#32cd32" shape-rendering="crispEdges"/>
<text x="1658" y="98.8" font-size="9.5" fill="#fff" textLength="33" lengthAdjust="spacingAndGlyphs">34889.1</text>
<rect x="1654" y="101" width="41" height="9" fill="#000000" shape-rendering="crispEdges"/>
<text x="1658" y="108.4" font-size="9.5" fill="#fff" textLength="33" lengthAdjust="spacingAndGlyphs">34856.0</text>
<rect x="1654" y="114" width="41" height="11" fill="#0000ff" shape-rendering="crispEdges"/>
<text x="1658" y="122.8" font-size="9.5" fill="#fff" textLength="33" lengthAdjust="spacingAndGlyphs">34790.3</text>
<rect x="1647.5" y="118.5" width="4" height="4" fill="#fff" stroke="#0000ff" stroke-width="1" shape-rendering="crispEdges"/>
<rect x="1654" y="133" width="41" height="11" fill="#0000ff" shape-rendering="crispEdges"/>
<text x="1658" y="141.8" font-size="9.5" fill="#fff" textLength="33" lengthAdjust="spacingAndGlyphs">34712.1</text>
<rect x="1647.5" y="137.5" width="4" height="4" fill="#fff" stroke="#0000ff" stroke-width="1" shape-rendering="crispEdges"/>
<path d="M0 33 L4.5 37.5 L0 37.5z" fill="#000"/>
<text x="9.5" y="38" font-size="9.5" fill="#000" textLength="185.5" lengthAdjust="spacingAndGlyphs">DJ30-,H4  34851.0 34860.0 34851.0 34856.0</text>
<path d="M1414 27h9l-4.5 5z" fill="#c0c0c0" shape-rendering="crispEdges"/>
<g shape-rendering="crispEdges">
<rect x="0" y="593" width="1653" height="1" fill="#000"/>
<rect x="0" y="594" width="1699" height="1" fill="#fff"/>
<rect x="0" y="595" width="1653" height="1" fill="#000"/>
<rect x="0" y="751" width="1653" height="1" fill="#000"/>
<rect x="0" y="752" width="1699" height="1" fill="#fff"/>
<rect x="0" y="753" width="1653" height="1" fill="#000"/>
<rect x="0" y="927" width="1653" height="1" fill="#000"/>
<rect x="1698" y="24" width="1" height="919" fill="#dcdcdc"/>
<path d="M2 651h1v59h-1zM10 651h1v59h-1zM18 651h1v58h-1zM26 651h1v59h-1zM34 651h1v60h-1zM42 651h1v68h-1zM50 651h1v76h-1zM58 651h1v81h-1zM66 651h1v86h-1zM74 651h1v92h-1zM82 651h1v89h-1zM90 651h1v83h-1zM98 651h1v69h-1zM106 651h1v56h-1zM114 651h1v44h-1zM122 651h1v34h-1zM130 651h1v27h-1zM138 651h1v21h-1zM146 651h1v16h-1zM154 651h1v10h-1zM162 651h1v5h-1zM170 651h1v1h-1zM178 648h1v4h-1zM186 646h1v6h-1zM194 645h1v7h-1zM202 646h1v6h-1zM210 646h1v6h-1zM218 644h1v8h-1zM226 642h1v10h-1zM234 641h1v11h-1zM242 637h1v15h-1zM250 632h1v20h-1zM258 627h1v25h-1zM266 621h1v31h-1zM274 618h1v34h-1zM282 618h1v34h-1zM290 612h1v40h-1zM298 610h1v42h-1zM306 607h1v45h-1zM314 605h1v47h-1zM322 604h1v48h-1zM330 605h1v47h-1zM338 606h1v46h-1zM346 613h1v39h-1zM354 617h1v35h-1zM362 621h1v31h-1zM370 624h1v28h-1zM378 627h1v25h-1zM386 628h1v24h-1zM394 629h1v23h-1zM402 631h1v21h-1zM410 632h1v20h-1zM418 634h1v18h-1zM426 635h1v17h-1zM434 638h1v14h-1zM442 635h1v17h-1zM450 632h1v20h-1zM458 629h1v23h-1zM466 625h1v27h-1zM474 623h1v29h-1zM482 622h1v30h-1zM490 622h1v30h-1zM498 620h1v32h-1zM506 620h1v32h-1zM514 618h1v34h-1zM522 618h1v34h-1zM530 618h1v34h-1zM538 618h1v34h-1zM546 615h1v37h-1zM554 614h1v38h-1zM562 614h1v38h-1zM570 615h1v37h-1zM578 617h1v35h-1zM586 615h1v37h-1zM594 615h1v37h-1zM602 617h1v35h-1zM610 617h1v35h-1zM618 617h1v35h-1zM626 620h1v32h-1zM634 623h1v29h-1zM642 631h1v21h-1zM650 638h1v14h-1zM658 642h1v10h-1zM666 647h1v5h-1zM674 648h1v4h-1zM682 650h1v2h-1zM690 650h1v2h-1zM698 649h1v3h-1zM706 648h1v4h-1zM714 649h1v3h-1zM722 651h1v5h-1zM730 651h1v15h-1zM738 651h1v16h-1zM746 651h1v17h-1zM754 651h1v18h-1zM762 651h1v21h-1zM770 651h1v18h-1zM778 651h1v12h-1zM786 651h1v3h-1zM794 647h1v5h-1zM802 640h1v12h-1zM810 635h1v17h-1zM818 632h1v20h-1zM826 634h1v18h-1zM834 635h1v17h-1zM842 630h1v22h-1zM850 625h1v27h-1zM858 622h1v30h-1zM866 621h1v31h-1zM874 620h1v32h-1zM882 618h1v34h-1zM890 620h1v32h-1zM898 622h1v30h-1zM906 624h1v28h-1zM914 628h1v24h-1zM922 630h1v22h-1zM930 631h1v21h-1zM938 632h1v20h-1zM946 632h1v20h-1zM954 634h1v18h-1zM962 635h1v17h-1zM970 639h1v13h-1zM978 642h1v10h-1zM986 641h1v11h-1zM994 640h1v12h-1zM1002 640h1v12h-1zM1010 639h1v13h-1zM1018 637h1v15h-1zM1026 636h1v16h-1zM1034 638h1v14h-1zM1042 645h1v7h-1zM1050 651h1v1h-1zM1058 651h1v7h-1zM1066 651h1v13h-1zM1074 651h1v20h-1zM1082 651h1v30h-1zM1090 651h1v45h-1zM1098 651h1v55h-1zM1106 651h1v61h-1zM1114 651h1v65h-1zM1122 651h1v64h-1zM1130 651h1v62h-1zM1138 651h1v51h-1zM1146 651h1v43h-1zM1154 651h1v34h-1zM1162 651h1v28h-1zM1170 651h1v19h-1zM1178 651h1v14h-1zM1186 651h1v6h-1zM1194 651h1v1h-1zM1202 644h1v8h-1zM1210 639h1v13h-1zM1218 635h1v17h-1zM1226 632h1v20h-1zM1234 632h1v20h-1zM1242 630h1v22h-1zM1250 628h1v24h-1zM1258 628h1v24h-1zM1266 625h1v27h-1zM1274 624h1v28h-1zM1282 621h1v31h-1zM1290 617h1v35h-1zM1298 616h1v36h-1zM1306 616h1v36h-1zM1314 618h1v34h-1zM1322 623h1v29h-1zM1330 624h1v28h-1zM1338 622h1v30h-1zM1346 619h1v33h-1zM1354 619h1v33h-1zM1362 619h1v33h-1zM1370 622h1v30h-1zM1378 623h1v29h-1zM1386 625h1v27h-1zM1394 625h1v27h-1zM1402 629h1v23h-1zM1410 631h1v21h-1z" fill="#c0c0c0"/>
<polyline points="0.5,694.4 19.5,702.2 42.9,709.2 64.1,717 81,725 91.5,728.7 104.3,729.3 114.9,726.6 127.5,719 140.5,707.5 151,695.8 161.5,683.5 170,676.8 180.5,666 191.2,659.8 203.9,653.9 218.5,649.2 227.2,646.7 242.1,643.3 259,639.3 276,634 292.9,625.9 307.5,619.5 324.5,612.6 339.5,609 348,608.3 357.5,608.3 372.3,611.5 389.2,617 404.1,622 414.5,625.5 429.5,629.5 446.5,631.8 467.5,631.8 488.5,629 503.5,626.3 516.5,623.4 531.2,620 548.2,617.9 569.5,616.8 594.5,616.6 632.9,616.8 643.5,619.5 658.5,623.4 671.1,629.7 683.8,634.4 695.3,640.3 708,644.3 718.5,647.5 731.5,651.3 744.1,654.5 754.5,657.3 765.3,661 775.9,663.6 786.5,665 797.1,663.6 807.5,658.8 820.5,652.4 833.1,646 843.5,641.2 856.5,634 867,630 881.8,626.3 894.5,623.8 909.5,621.7 917.9,621.2 930.5,623.4 945.5,625.9 960.2,628.4 977.2,633.3 998.5,636.9 1019.5,638 1037.5,638.2 1052.3,640.7 1065,643.9 1075.5,648.8 1086.2,655.6 1098.9,667.2 1109.5,678.9 1122.2,690.5 1134.9,699 1145.5,703.7 1151.9,704.3 1164.5,701 1177.3,694 1190,684.8 1200.5,674.6 1211.2,664 1223.9,654.5 1236.5,646 1247,640.2 1253.5,637.3 1263.8,633.7 1270.3,631.5 1278,629.5 1288.5,626.7 1300.1,623.7 1307.8,622.4 1318.2,620.7 1331.1,619.6 1344.1,619.2 1357,619.2 1370,619.4 1382.9,621 1395.9,622 1410.1,623.5" fill="none" stroke="#ff0000" stroke-width="1" stroke-dasharray="3 3"/>
<line x1="1" y1="789.5" x2="1652" y2="789.5" stroke="#c0c0c0" stroke-width="1" stroke-dasharray="3 3"/>
<line x1="1" y1="840.5" x2="1652" y2="840.5" stroke="#c0c0c0" stroke-width="1" stroke-dasharray="3 3"/>
<line x1="1" y1="901.5" x2="1652" y2="901.5" stroke="#c0c0c0" stroke-width="1" stroke-dasharray="3 3"/>
<polyline points="0,882.7 2.5,882.4 10.5,878.8 18.5,875.5 26.5,879.3 34.5,884.1 42.5,894.1 50.5,898.3 58.5,897.3 66.5,898.8 74.5,903 82.5,868.2 90.5,861.3 98.5,840 106.5,835.8 114.5,834.1 122.5,832.2 130.5,838.4 138.5,835.4 146.5,836.5 154.5,832.2 162.5,830.5 170.5,827.3 178.5,829 186.5,831 194.5,836.5 202.5,841.1 210.5,835.8 218.5,832.6 226.5,831.2 234.5,825.7 242.5,822.5 250.5,816.8 258.5,808.9 266.5,806.2 274.5,814.2 282.5,814.2 290.5,805.5 298.5,804.5 306.5,803.4 314.5,800.2 322.5,807.6 330.5,811.9 338.5,815.3 346.5,835.4 354.5,833.3 362.5,833.3 370.5,837.3 378.5,828.4 386.5,828.4 394.5,826.3 402.5,835.4 410.5,830.5 418.5,830.5 426.5,833.7 434.5,839.4 442.5,821 450.5,814.6 458.5,809.8 466.5,809.3 474.5,805.1 482.5,811 490.5,814.6 498.5,808.3 506.5,812.5 514.5,808.3 522.5,808.3 530.5,815.7 538.5,805.5 546.5,801.9 554.5,806.2 562.5,809.3 570.5,813.1 578.5,815.7 586.5,807.2 594.5,804.5 602.5,812.5 610.5,808.3 618.5,808.3 626.5,818.9 634.5,824.6 642.5,863.8 650.5,848.1 658.5,855.5 666.5,849 674.5,845.4 682.5,842.6 690.5,839.4 698.5,833.7 706.5,834.8 714.5,845.4 722.5,866.5 730.5,876.5 738.5,851.7 746.5,851.7 754.5,853.8 762.5,858.5 770.5,843.2 778.5,830.1 786.5,821.6 794.5,820.6 802.5,819.3 810.5,818.2 818.5,827.3 826.5,835.8 834.5,834.3 842.5,819.5 850.5,818.2 858.5,817.2 866.5,819.3 874.5,821.6 882.5,820.4 890.5,821.6 898.5,829.9 906.5,834.3 914.5,834.3 922.5,835.8 930.5,828.4 938.5,837.3 946.5,828 954.5,830.5 962.5,835.2 970.5,842.6 978.5,847.5 986.5,829.9 994.5,826.3 1002.5,833.3 1010.5,827.8 1018.5,826.3 1026.5,824.2 1034.5,839 1042.5,858.5 1050.5,862.3 1058.5,866.1 1066.5,868.2 1074.5,874.6 1082.5,883.1 1090.5,893.5 1098.5,892.4 1106.5,882.4 1114.5,884.1 1122.5,867.2 1130.5,865.9 1138.5,837.3 1146.5,840.5 1154.5,835.4 1162.5,840 1170.5,829.5 1178.5,837.3 1186.5,826.3 1194.5,826.3 1202.5,824.6 1210.5,824.6 1218.5,824.6 1226.5,823.5 1234.5,832.2 1242.5,827.8 1250.5,824.6 1258.5,824.2 1266.5,820.4 1274.5,816.3 1282.5,816.3 1290.5,812.5 1298.5,812.1 1306.5,814.5 1314.5,832 1322.5,838.1 1330.5,826.7 1338.5,818.4 1346.5,815.5 1354.5,820 1362.5,823 1370.5,833.6 1378.5,828.3 1386.5,834.6 1394.5,828.3 1402.5,836.7 1410.5,837.3" fill="none" stroke="#1e90ff" stroke-width="1"/>
<rect x="1653" y="597" width="2" height="1" fill="#000"/>
<rect x="1653" y="651" width="2" height="1" fill="#000"/>
<rect x="1653" y="750" width="2" height="1" fill="#000"/>
<rect x="1653" y="755" width="2" height="1" fill="#000"/>
<rect x="1653" y="789" width="2" height="1" fill="#000"/>
<rect x="1653" y="840" width="2" height="1" fill="#000"/>
<rect x="1653" y="901" width="2" height="1" fill="#000"/>
<rect x="1653" y="926" width="2" height="1" fill="#000"/>
<rect x="58" y="928" width="1" height="4" fill="#000"/>
<rect x="122" y="928" width="1" height="4" fill="#000"/>
<rect x="186" y="928" width="1" height="4" fill="#000"/>
<rect x="250" y="928" width="1" height="4" fill="#000"/>
<rect x="314" y="928" width="1" height="4" fill="#000"/>
<rect x="378" y="928" width="1" height="4" fill="#000"/>
<rect x="442" y="928" width="1" height="4" fill="#000"/>
<rect x="506" y="928" width="1" height="4" fill="#000"/>
<rect x="570" y="928" width="1" height="4" fill="#000"/>
<rect x="634" y="928" width="1" height="4" fill="#000"/>
<rect x="698" y="928" width="1" height="4" fill="#000"/>
<rect x="762" y="928" width="1" height="4" fill="#000"/>
<rect x="826" y="928" width="1" height="4" fill="#000"/>
<rect x="890" y="928" width="1" height="4" fill="#000"/>
<rect x="954" y="928" width="1" height="4" fill="#000"/>
<rect x="1018" y="928" width="1" height="4" fill="#000"/>
<rect x="1082" y="928" width="1" height="4" fill="#000"/>
<rect x="1146" y="928" width="1" height="4" fill="#000"/>
<rect x="1210" y="928" width="1" height="4" fill="#000"/>
<rect x="1274" y="928" width="1" height="4" fill="#000"/>
<rect x="1338" y="928" width="1" height="4" fill="#000"/>
<rect x="1402" y="928" width="1" height="4" fill="#000"/>
</g>
<text x="-0.5" y="608" font-size="9.5" fill="#000" textLength="116.5" lengthAdjust="spacingAndGlyphs">MACD(12,26,9) 64.95 92.18</text>
<text x="-1" y="766" font-size="9.5" fill="#000" textLength="67" lengthAdjust="spacingAndGlyphs">RSI(14) 51.9693</text>
<text x="1657" y="605.5" font-size="9.5" fill="#000" textLength="22" lengthAdjust="spacingAndGlyphs">179.1</text>
<text x="1657" y="655" font-size="9.5" fill="#000" textLength="18" lengthAdjust="spacingAndGlyphs">0.00</text>
<text x="1657" y="748.5" font-size="9.5" fill="#000" textLength="30.5" lengthAdjust="spacingAndGlyphs">-329.19</text>
<text x="1657" y="764" font-size="9.5" fill="#000" textLength="14" lengthAdjust="spacingAndGlyphs">100</text>
<text x="1657" y="793" font-size="9.5" fill="#000" textLength="9.5" lengthAdjust="spacingAndGlyphs">80</text>
<text x="1657" y="844" font-size="9.5" fill="#000" textLength="9.5" lengthAdjust="spacingAndGlyphs">50</text>
<text x="1657" y="905.5" font-size="9.5" fill="#000" textLength="9.5" lengthAdjust="spacingAndGlyphs">15</text>
<text x="1657" y="924" font-size="9.5" fill="#000" textLength="4.7" lengthAdjust="spacingAndGlyphs">0</text>
<text x="-6.5" y="939.8" font-size="9.5" fill="#000" textLength="48.6" lengthAdjust="spacingAndGlyphs">17 Jun 2021</text>
<text x="57.5" y="939.8" font-size="9.5" fill="#000" textLength="52.8" lengthAdjust="spacingAndGlyphs">18 Jun 20:00</text>
<text x="121.5" y="939.8" font-size="9.5" fill="#000" textLength="52.8" lengthAdjust="spacingAndGlyphs">22 Jun 00:00</text>
<text x="185.5" y="939.8" font-size="9.5" fill="#000" textLength="52.8" lengthAdjust="spacingAndGlyphs">23 Jun 08:00</text>
<text x="249.5" y="939.8" font-size="9.5" fill="#000" textLength="52.8" lengthAdjust="spacingAndGlyphs">24 Jun 16:00</text>
<text x="313.5" y="939.8" font-size="9.5" fill="#000" textLength="52.8" lengthAdjust="spacingAndGlyphs">27 Jun 23:00</text>
<text x="377.5" y="939.8" font-size="9.5" fill="#000" textLength="52.8" lengthAdjust="spacingAndGlyphs">29 Jun 04:00</text>
<text x="441.5" y="939.8" font-size="9.5" fill="#000" textLength="52.8" lengthAdjust="spacingAndGlyphs">30 Jun 12:00</text>
<text x="505.5" y="939.8" font-size="9.5" fill="#000" textLength="44.3" lengthAdjust="spacingAndGlyphs">1 Jul 20:00</text>
<text x="569.5" y="939.8" font-size="9.5" fill="#000" textLength="44.3" lengthAdjust="spacingAndGlyphs">5 Jul 00:00</text>
<text x="633.5" y="939.8" font-size="9.5" fill="#000" textLength="44.3" lengthAdjust="spacingAndGlyphs">6 Jul 08:00</text>
<text x="697.5" y="939.8" font-size="9.5" fill="#000" textLength="44.3" lengthAdjust="spacingAndGlyphs">7 Jul 16:00</text>
<text x="761.5" y="939.8" font-size="9.5" fill="#000" textLength="44.3" lengthAdjust="spacingAndGlyphs">9 Jul 00:00</text>
<text x="825.5" y="939.8" font-size="9.5" fill="#000" textLength="48.5" lengthAdjust="spacingAndGlyphs">12 Jul 04:00</text>
<text x="889.5" y="939.8" font-size="9.5" fill="#000" textLength="48.5" lengthAdjust="spacingAndGlyphs">13 Jul 12:00</text>
<text x="953.5" y="939.8" font-size="9.5" fill="#000" textLength="48.5" lengthAdjust="spacingAndGlyphs">14 Jul 20:00</text>
<text x="1017.5" y="939.8" font-size="9.5" fill="#000" textLength="48.5" lengthAdjust="spacingAndGlyphs">16 Jul 04:00</text>
<text x="1081.5" y="939.8" font-size="9.5" fill="#000" textLength="48.5" lengthAdjust="spacingAndGlyphs">19 Jul 08:00</text>
<text x="1145.5" y="939.8" font-size="9.5" fill="#000" textLength="48.5" lengthAdjust="spacingAndGlyphs">20 Jul 16:00</text>
<text x="1209.5" y="939.8" font-size="9.5" fill="#000" textLength="48.5" lengthAdjust="spacingAndGlyphs">22 Jul 00:00</text>
<text x="1273.5" y="939.8" font-size="9.5" fill="#000" textLength="48.5" lengthAdjust="spacingAndGlyphs">23 Jul 08:00</text>
<text x="1337.5" y="939.8" font-size="9.5" fill="#000" textLength="48.5" lengthAdjust="spacingAndGlyphs">26 Jul 12:00</text>
<text x="1401.5" y="939.8" font-size="9.5" fill="#000" textLength="48.5" lengthAdjust="spacingAndGlyphs">27 Jul 20:00</text>
<rect x="1325" y="91" width="126" height="9" fill="#00ff00" shape-rendering="crispEdges"/>
<text x="1459.8" y="90.2" font-size="20.6" fill="#00ff00" textLength="106" lengthAdjust="spacingAndGlyphs" style="font-family:'Liberation Serif','Noto Serif CJK SC',serif">多空转折点</text>
<g shape-rendering="crispEdges">
<line x1="1086.7" y1="381.8" x2="1290.8" y2="84.7" stroke="#ff0000" stroke-width="3.6"/>
<polygon points="1297,75.6 1294.5,88.4 1285.9,82.5" fill="#ff0000"/>
<line x1="1297" y1="76" x2="1323.7" y2="131.6" stroke="#ff0000" stroke-width="3.6"/>
<polygon points="1328.5,141.5 1318.6,132.9 1328,128.4" fill="#ff0000"/>
<line x1="1328.5" y1="141.5" x2="1345.8" y2="67.7" stroke="#ff0000" stroke-width="3.6"/>
<polygon points="1348.3,57 1350.6,69.9 1340.5,67.5" fill="#ff0000"/>
<line x1="1348.3" y1="57" x2="1402.5" y2="101.1" stroke="#ff0000" stroke-width="3.6"/>
<polygon points="1411,108 1398.4,104.5 1405,96.4" fill="#ff0000"/>
<line x1="1261.4" y1="624.4" x2="1402.2" y2="628.9" stroke="#ff0000" stroke-width="3"/>
<polygon points="1414.2,629.3 1401,633.9 1401.4,623.9" fill="#ff0000"/>
<line x1="1338.7" y1="813.4" x2="1412.2" y2="841.8" stroke="#ff0000" stroke-width="3.4"/>
<polygon points="1422.5,845.8 1409.4,846.3 1413.2,836.6" fill="#ff0000"/>
</g>
<defs>
<linearGradient id="gt" x1="0" y1="0" x2="0" y2="1"><stop offset="0" stop-color="#5656ff"/><stop offset="1" stop-color="#3232e2"/></linearGradient>
<linearGradient id="gb" x1="0" y1="0" x2="0" y2="1"><stop offset="0" stop-color="#2c2ce0"/><stop offset="1" stop-color="#0000a6"/></linearGradient>
<linearGradient id="gbtn" x1="0" y1="0" x2="0" y2="1"><stop offset="0" stop-color="#f4f4f4"/><stop offset="0.45" stop-color="#e6e6e6"/><stop offset="0.5" stop-color="#d4d4d4"/><stop offset="1" stop-color="#cfcfcf"/></linearGradient>
</defs>
<rect x="0" y="40" width="217" height="64" fill="#fff"/>
<g shape-rendering="crispEdges">
<rect x="0" y="46" width="49" height="25" fill="url(#gt)"/>
<rect x="0" y="46" width="49" height="1" fill="#2a2ad0"/>
<rect x="48" y="46" width="1" height="24" fill="#2a2ad0"/>
<rect x="0" y="70" width="106" height="33" fill="url(#gb)"/>
<rect x="1" y="69" width="45" height="1" fill="#2222b8"/>
<rect x="1" y="70" width="45" height="1" fill="#7a7aff"/>
<rect x="164" y="46" width="52" height="25" fill="url(#gt)"/>
<rect x="164" y="46" width="52" height="1" fill="#2a2ad0"/>
<rect x="164" y="46" width="1" height="24" fill="#2a2ad0"/>
<rect x="215" y="46" width="1" height="57" fill="#1a1ab0"/>
<rect x="108" y="70" width="108" height="33" fill="url(#gb)"/>
<rect x="168" y="69" width="45" height="1" fill="#2222b8"/>
<rect x="168" y="70" width="45" height="1" fill="#7a7aff"/>
<rect x="51.5" y="46.5" width="110" height="21" fill="#fff" stroke="#a8a8a8"/>
<rect x="52.5" y="47.5" width="20" height="19" fill="url(#gbtn)" stroke="#c8c8c8"/>
<rect x="140.5" y="47.5" width="20" height="19" fill="url(#gbtn)" stroke="#c8c8c8"/>
</g>
<path d="M59 55.2h5.4l-2.7 3.2z" fill="#4c5cc4"/>
<path d="M148 58.2h5.4l-2.7 -3.2z" fill="#4c5cc4"/>
<text x="22.4" y="61.6" font-size="12" fill="#fff" text-anchor="middle" textLength="25.5" lengthAdjust="spacingAndGlyphs">SELL</text>
<text x="189.5" y="61.8" font-size="12" fill="#fff" text-anchor="middle" textLength="23.5" lengthAdjust="spacingAndGlyphs">BUY</text>
<text x="137" y="60.8" font-size="12" fill="#000" text-anchor="end" textLength="23" lengthAdjust="spacingAndGlyphs">1.00</text>
<text x="13.5" y="97.8" font-size="12" fill="#fff" textLength="34" lengthAdjust="spacingAndGlyphs" font-weight="bold">34854</text>
<text x="123.7" y="97.8" font-size="12" fill="#fff" textLength="34" lengthAdjust="spacingAndGlyphs" font-weight="bold">34863</text>
<rect x="53.6" y="93.6" width="4.2" height="4.2" rx="0.8" fill="#fff"/>
<rect x="163.6" y="93.6" width="4.2" height="4.2" rx="0.8" fill="#fff"/>
<text x="60.5" y="97.8" font-size="32.5" fill="#fff" textLength="14.5" lengthAdjust="spacingAndGlyphs">5</text>
<text x="170.5" y="97.8" font-size="32.5" fill="#fff" textLength="14.5" lengthAdjust="spacingAndGlyphs">5</text>
</svg>
</body></html>
